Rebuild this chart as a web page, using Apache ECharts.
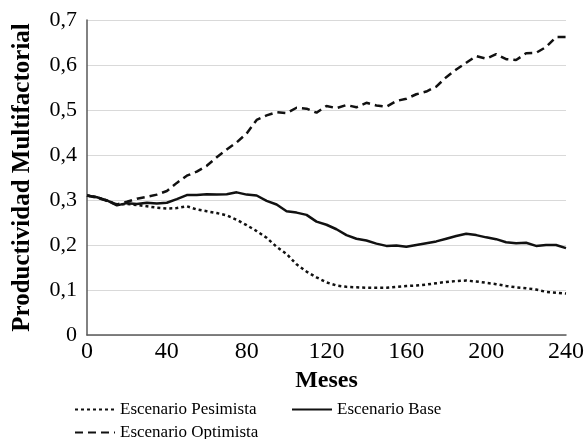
<!DOCTYPE html>
<html>
<head>
<meta charset="utf-8">
<script src="https://cdn.jsdelivr.net/npm/echarts@6/dist/echarts.min.js"></script>
<style>
  html, body { margin: 0; padding: 0; background: #fff; }
  #chart { width: 587px; height: 439px; }
</style>
</head>
<body>
<div id="chart"></div>
<script>
const months = [0, 5, 10, 15, 20, 25, 30, 35, 40, 45, 50, 55, 60, 65, 70, 75, 80, 85, 90, 95,
  100, 105, 110, 115, 120, 125, 130, 135, 140, 145, 150, 155, 160, 165, 170, 175, 180, 185, 190, 195,
  200, 205, 210, 215, 220, 225, 230, 235, 240];

const pesimista = [0.310, 0.306, 0.299, 0.290, 0.291, 0.289, 0.286, 0.283, 0.281, 0.282,
  0.286, 0.279, 0.275, 0.271, 0.266, 0.256, 0.244, 0.231, 0.216, 0.196,
  0.180, 0.157, 0.141, 0.128, 0.117, 0.110, 0.107, 0.106, 0.105, 0.105,
  0.105, 0.107, 0.109, 0.110, 0.112, 0.115, 0.118, 0.120, 0.121, 0.119,
  0.116, 0.113, 0.109, 0.106, 0.104, 0.101, 0.096, 0.094, 0.092];

const base = [0.310, 0.306, 0.299, 0.288, 0.293, 0.291, 0.294, 0.292, 0.294, 0.302,
  0.311, 0.311, 0.313, 0.312, 0.313, 0.317, 0.312, 0.310, 0.298, 0.290,
  0.275, 0.272, 0.267, 0.252, 0.245, 0.235, 0.222, 0.214, 0.210, 0.203,
  0.198, 0.199, 0.196, 0.200, 0.204, 0.208, 0.214, 0.220, 0.225, 0.222,
  0.217, 0.213, 0.206, 0.204, 0.205, 0.198, 0.200, 0.200, 0.193];

const optimista = [0.310, 0.305, 0.298, 0.290, 0.296, 0.303, 0.307, 0.312, 0.320, 0.338,
  0.354, 0.363, 0.376, 0.395, 0.412, 0.428, 0.448, 0.478, 0.488, 0.495,
  0.493, 0.505, 0.503, 0.494, 0.509, 0.504, 0.511, 0.506, 0.516, 0.510,
  0.507, 0.520, 0.525, 0.535, 0.541, 0.552, 0.573, 0.590, 0.605, 0.620,
  0.614, 0.624, 0.613, 0.611, 0.626, 0.627, 0.640, 0.662, 0.662];

const seriesNames = ['Escenario Pesimista', 'Escenario Base', 'Escenario Optimista'];

const font = '"Liberation Serif", "Times New Roman", serif';
const chart = echarts.init(document.getElementById('chart'), null, { renderer: 'canvas' });

const pairs = (ys) => months.map((m, i) => [m, ys[i]]);

// legend shows only the line sample, no symbol
const legendBase = {
  orient: 'horizontal',
  padding: 0,
  itemWidth: 40,
  itemHeight: 14,
  itemGap: 4,
  itemStyle: { opacity: 0 },
  textStyle: { fontFamily: font, fontSize: 17, color: '#000' },
};

const lineSeries = (name, ys, type) => ({
  name,
  type: 'line',
  data: pairs(ys),
  showSymbol: false,
  symbol: 'none',
  lineStyle: { color: '#111', width: 2.5, type },
  itemStyle: { color: '#111', opacity: 0 },
});

chart.setOption({
  animation: false,
  textStyle: { fontFamily: font },
  grid: { left: 87, right: 19, top: 20, bottom: 104 },
  legend: [
    { ...legendBase, data: [seriesNames[0]], left: 74, top: 401 },
    { ...legendBase, data: [seriesNames[1]], left: 291, top: 401 },
    { ...legendBase, data: [seriesNames[2]], left: 74, top: 424 },
  ],
  xAxis: {
    type: 'value',
    min: 0,
    max: 240,
    interval: 40,
    name: 'Meses',
    nameLocation: 'middle',
    nameGap: 33,
    nameTextStyle: { fontFamily: font, fontSize: 24, fontWeight: 'bold', color: '#000' },
    axisLine: { lineStyle: { color: '#595959', width: 1.5 } },
    axisTick: { show: false },
    axisLabel: { fontFamily: font, fontSize: 24, color: '#000', margin: 5 },
    splitLine: { show: false },
  },
  yAxis: {
    type: 'value',
    min: 0,
    max: 0.7,
    interval: 0.1,
    name: 'Productividad Multifactorial',
    nameLocation: 'middle',
    nameGap: 52,
    nameTextStyle: { fontFamily: font, fontSize: 25, fontWeight: 'bold', color: '#000' },
    axisLine: { show: true, lineStyle: { color: '#595959', width: 1.5 } },
    axisTick: { show: false },
    axisLabel: {
      fontFamily: font,
      fontSize: 22,
      color: '#000',
      margin: 10,
      formatter: (v) => (Math.round(v * 10) / 10).toString().replace('.', ','),
    },
    splitLine: { lineStyle: { color: '#d9d9d9', width: 1 } },
  },
  series: [
    lineSeries(seriesNames[0], pesimista, [3, 3]),
    lineSeries(seriesNames[1], base, 'solid'),
    lineSeries(seriesNames[2], optimista, [8, 5]),
  ],
});
</script>
</body>
</html>
